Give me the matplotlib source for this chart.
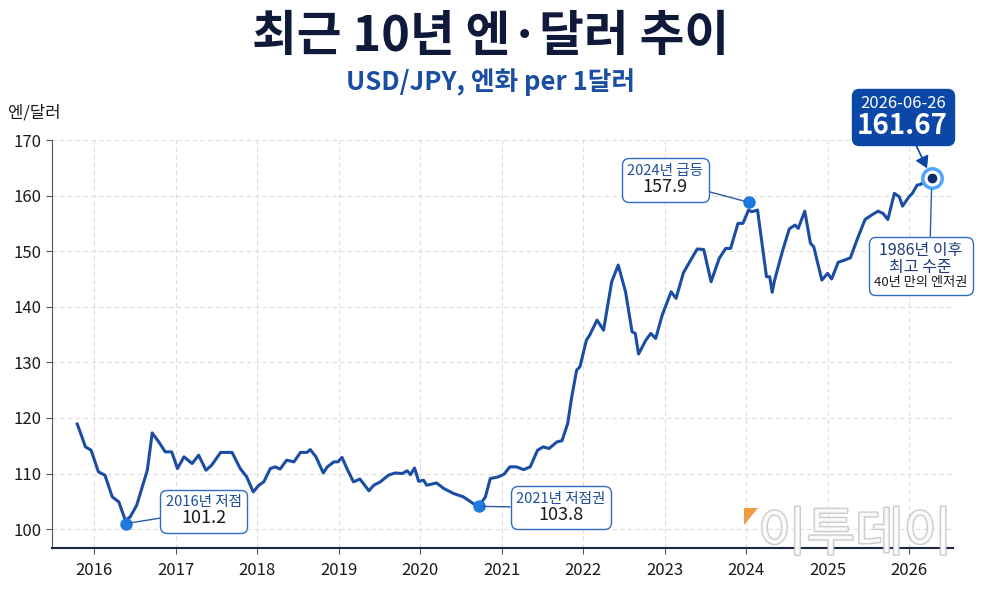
import matplotlib.pyplot as plt
import matplotlib.patheffects as pe
from matplotlib.offsetbox import AnnotationBbox, TextArea, VPacker
from matplotlib.patches import Polygon

plt.rcParams['font.family'] = ['Noto Sans CJK KR', 'DejaVu Sans']

# USD/JPY (fractional years)
years = [2015.79, 2015.85, 2015.89, 2015.96, 2016.05, 2016.13, 2016.22, 2016.30,
         2016.38, 2016.44, 2016.52, 2016.65, 2016.71, 2016.79, 2016.87, 2016.95,
         2017.02, 2017.10, 2017.20, 2017.28, 2017.37, 2017.44, 2017.55, 2017.69,
         2017.79, 2017.87, 2017.95, 2018.02, 2018.08, 2018.16, 2018.22, 2018.28,
         2018.36, 2018.45, 2018.53, 2018.61, 2018.65, 2018.72, 2018.81, 2018.86,
         2018.94, 2018.99, 2019.04, 2019.10, 2019.18, 2019.26, 2019.37, 2019.43,
         2019.51, 2019.61, 2019.69, 2019.78, 2019.84, 2019.88, 2019.93, 2019.98,
         2020.04, 2020.08, 2020.20, 2020.29, 2020.41, 2020.53, 2020.65, 2020.72,
         2020.80, 2020.86, 2020.96, 2021.03, 2021.10, 2021.18, 2021.27, 2021.35,
         2021.44, 2021.51, 2021.58, 2021.68, 2021.74, 2021.81, 2021.86, 2021.92,
         2021.96, 2022.04, 2022.08, 2022.17, 2022.25, 2022.35, 2022.43, 2022.52,
         2022.60, 2022.64, 2022.68, 2022.77, 2022.83, 2022.89, 2022.97, 2023.08,
         2023.14, 2023.23, 2023.32, 2023.40, 2023.48, 2023.57, 2023.67, 2023.75,
         2023.81, 2023.90, 2023.96, 2024.03, 2024.07, 2024.14, 2024.25, 2024.29,
         2024.32, 2024.35, 2024.45, 2024.53, 2024.60, 2024.64, 2024.72, 2024.79,
         2024.83, 2024.93, 2025.00, 2025.05, 2025.13, 2025.21, 2025.28, 2025.36,
         2025.46, 2025.54, 2025.62, 2025.68, 2025.74, 2025.82, 2025.88, 2025.92,
         2026.00, 2026.04, 2026.10, 2026.14, 2026.21, 2026.28]
rates = [118.9, 116.5, 114.8, 114.2, 110.3, 109.7, 105.8, 104.9,
         101.6, 102.2, 104.3, 110.6, 117.3, 115.7, 113.9, 113.9,
         110.9, 113.0, 111.8, 113.3, 110.6, 111.5, 113.8, 113.8,
         110.9, 109.4, 106.7, 107.9, 108.5, 110.9, 111.2, 110.8,
         112.4, 112.1, 113.8, 113.8, 114.3, 113.0, 110.1, 111.2,
         112.1, 112.1, 112.9, 110.9, 108.5, 109.0, 106.9, 107.9,
         108.5, 109.7, 110.1, 110.0, 110.5, 109.8, 111.0, 108.6,
         108.8, 107.9, 108.3, 107.3, 106.4, 105.8, 104.6, 104.1,
         105.8, 109.1, 109.4, 109.9, 111.2, 111.2, 110.7, 111.2,
         114.2, 114.8, 114.5, 115.7, 115.9, 119.0, 123.8, 128.6,
         129.2, 134.0, 134.9, 137.6, 135.8, 144.5, 147.5, 142.7,
         135.5, 135.2, 131.5, 134.0, 135.2, 134.3, 138.5, 142.7,
         141.5, 146.1, 148.4, 150.4, 150.3, 144.5, 148.7, 150.5,
         150.5, 155.0, 155.0, 157.4, 157.1, 157.4, 145.4, 145.4,
         142.6, 144.8, 150.2, 154.0, 154.7, 154.1, 157.2, 151.4,
         150.8, 144.8, 146.0, 145.0, 148.0, 148.4, 148.8, 152.0,
         155.7, 156.5, 157.2, 156.8, 155.7, 160.4, 159.8, 158.1,
         159.8, 160.4, 161.9, 162.0, 162.8, 163.1]

note_years = [2016.39, 2020.72, 2024.03]
note_rates = [101.0, 104.1, 158.8]
note_titles = ['2016년 저점', '2021년 저점권', '2024년 급등']
note_values = ['101.2', '103.8', '157.9']
note_offsets = [(56, 9), (59, -1), (-60, 16)]  # points from the dot

last_date = '2026-06-26'
last_value = '161.67'
last_notes = ['1986년 이후', '최고 수준', '40년 만의 엔저권']

tick_years = list(range(2016, 2027))
tick_rates = list(range(100, 171, 10))

line_blue = '#1a4da3'
dot_blue = '#1f7ae0'
box_blue = '#2f6cc4'
dark_blue = '#0b47a6'

fig = plt.figure(figsize=(9.81, 5.92), dpi=100)
ax = fig.add_axes([0.053, 0.0743, 0.9185, 0.6892])

ax.plot(years, rates, color=line_blue, lw=2.2, zorder=3, solid_joinstyle='round')

ax.set_xlim(2015.48, 2026.54)
ax.set_ylim(96.6, 170)
ax.set_xticks(tick_years)
ax.set_yticks(tick_rates)
ax.grid(True, color='#dcdcdc', lw=0.8, ls=(0, (4, 3)))
ax.set_axisbelow(True)
for s in ['top', 'right']:
    ax.spines[s].set_visible(False)
ax.spines['left'].set_color('#555555')
ax.spines['bottom'].set_color('#1c2541')
ax.spines['bottom'].set_linewidth(1.5)
ax.tick_params(axis='both', labelsize=12, labelcolor='#1a1a1a', length=4, color='#555555')
ax.tick_params(axis='x', pad=6)

# annotated dots with boxes
for x, y, t, v, off in zip(note_years, note_rates, note_titles, note_values, note_offsets):
    ax.plot(x, y, 'o', color=dot_blue, ms=8, zorder=5)
    box = VPacker(children=[TextArea(t, textprops=dict(color='#1f4f9c', fontsize=10.5,
                                                       fontweight='medium')),
                            TextArea(v, textprops=dict(color='#1a1a1a', fontsize=13))],
                  align='center', pad=0, sep=0)
    ab = AnnotationBbox(box, (x, y), xybox=off, boxcoords='offset points', pad=0.4,
                        bboxprops=dict(boxstyle='round,pad=0.4,rounding_size=0.5',
                                       fc='white', ec=box_blue, lw=1),
                        arrowprops=dict(arrowstyle='-', color='#2a5aa8', lw=1,
                                        shrinkA=0, shrinkB=3),
                        zorder=6)
    ax.add_artist(ab)

# latest point
ax.plot(years[-1], rates[-1], 'o', ms=14, mfc='white', mec='#4da6ff', mew=2.5, zorder=6)
ax.plot(years[-1], rates[-1], 'o', ms=7, mfc='#0d2d6b', mec='none', zorder=7)

top_box = VPacker(children=[TextArea(last_date, textprops=dict(color='white', fontsize=12)),
                            TextArea(last_value, textprops=dict(color='white', fontsize=20,
                                                                fontweight='bold'))],
                  align='center', pad=0, sep=0)
ab = AnnotationBbox(top_box, (years[-1], rates[-1]), xybox=(-21, 44),
                    boxcoords='offset points', pad=0.4,
                    bboxprops=dict(boxstyle='round,pad=0.4,rounding_size=0.5',
                                   fc=dark_blue, ec=dark_blue, lw=1),
                    arrowprops=dict(arrowstyle='-|>,head_length=0.5,head_width=0.3',
                                    color=dark_blue, lw=1.2, shrinkA=0, shrinkB=8),
                    zorder=8, annotation_clip=False)
ax.add_artist(ab)

side_box = VPacker(children=[TextArea(last_notes[0], textprops=dict(color='#1c3b78', fontsize=11.5)),
                             TextArea(last_notes[1], textprops=dict(color='#1c3b78', fontsize=11.5)),
                             TextArea(last_notes[2], textprops=dict(color='#1a1a1a', fontsize=9.5))],
                   align='center', pad=0, sep=0)
ab = AnnotationBbox(side_box, (years[-1], rates[-1]), xybox=(-8, -63),
                    boxcoords='offset points', pad=0.4,
                    bboxprops=dict(boxstyle='round,pad=0.4,rounding_size=0.5',
                                   fc='white', ec=box_blue, lw=1),
                    arrowprops=dict(arrowstyle='-', color='#2a5aa8', lw=1,
                                    shrinkA=0, shrinkB=8, relpos=(0.6, 1.0)),
                    zorder=8, annotation_clip=False)
ax.add_artist(ab)

# titles
fig.text(0.5, 0.938, '최근 10년 엔·달러 추이', ha='center', va='center',
         fontsize=35, fontweight='bold', color='#0f1a3a')
fig.text(0.5, 0.862, 'USD/JPY, 엔화 per 1달러', ha='center', va='center',
         fontsize=18.5, fontweight='bold', color='#1a4ea3')
fig.text(8 / 981, 1 - 113 / 592, '엔/달러', ha='left', va='center',
         fontsize=12, fontweight='medium', color='#1a1a1a')

# watermark
fig.patches.append(Polygon([(744 / 981, 1 - 508 / 592), (758 / 981, 1 - 508 / 592),
                            (744 / 981, 1 - 525 / 592)], closed=True,
                           transform=fig.transFigure, fc='#f39a45', ec='none', zorder=9))
fig.text(855 / 981, 1 - 535 / 592, '이투데이', ha='center', va='center', fontsize=38,
         color='white', alpha=0.85, zorder=9,
         path_effects=[pe.Stroke(linewidth=2, foreground='#c4c4c4'), pe.Normal()])

fig.savefig('out.png', dpi=100)
